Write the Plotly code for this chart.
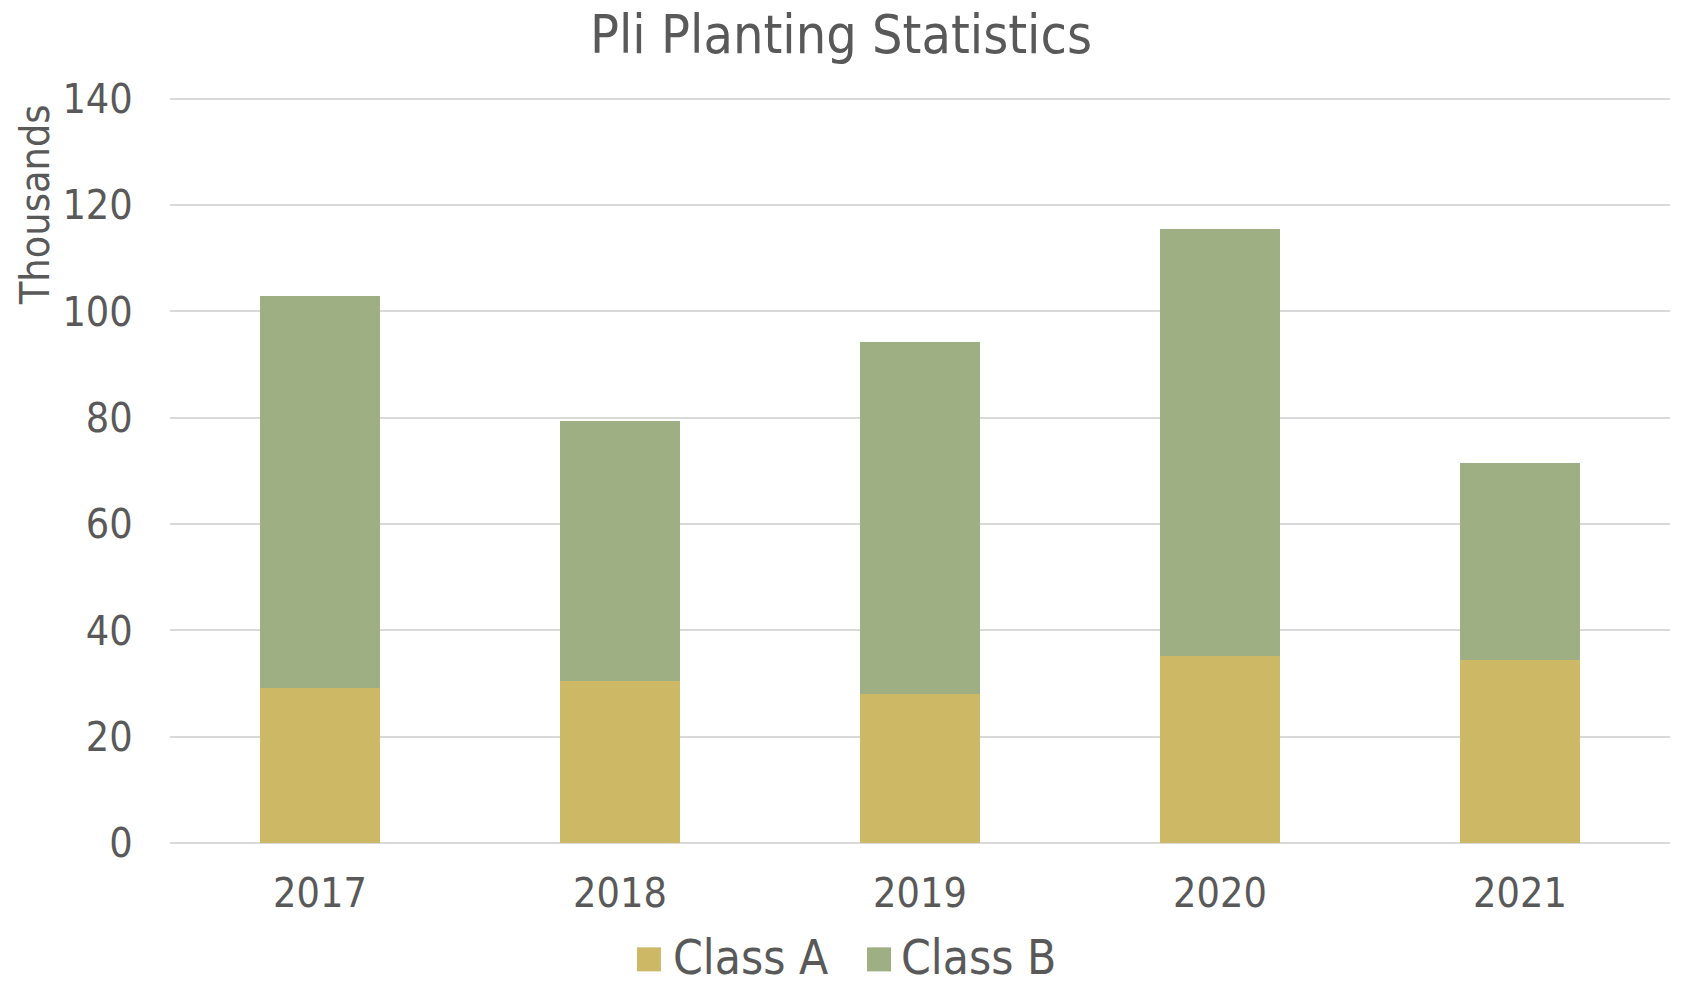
import plotly.graph_objects as go

years = ["2017", "2018", "2019", "2020", "2021"]
class_a = [29.1, 30.4, 28.1, 35.1, 34.35]
class_b = [73.8, 49.0, 66.1, 80.4, 37.2]
y_ticks = [0, 20, 40, 60, 80, 100, 120, 140]
series_names = ["Class A", "Class B"]
series_colors = ["#CDB866", "#9DAF83"]

FONT = "DejaVu Sans Condensed, Liberation Sans, sans-serif"
TXT = "#595959"
GRID = "#d9d9d9"

fig = go.Figure()
for name, vals, col in zip(series_names, [class_a, class_b], series_colors):
    fig.add_trace(go.Bar(name=name, x=years, y=vals, marker=dict(color=col, line=dict(width=0))))

# manual legend (Excel-style large square swatches)
legend_sq_x = [0.3113, 0.4647]
legend_txt_x = [0.3340, 0.4860]
shapes = []
annotations = [
    dict(text="Thousands", xref="paper", yref="paper", x=-0.09, y=0.855,
         xanchor="center", yanchor="middle", textangle=-90, showarrow=False,
         font=dict(family=FONT, size=41, color=TXT)),
]
for name, col, sx, tx in zip(series_names, series_colors, legend_sq_x, legend_txt_x):
    shapes.append(dict(type="rect", xref="paper", yref="paper", x0=sx, x1=sx + 0.016,
                       y0=-0.1721, y1=-0.1399, fillcolor=col, line=dict(width=0)))
    annotations.append(dict(text=name, xref="paper", yref="paper", x=tx, y=-0.1533,
                            xanchor="left", yanchor="middle", showarrow=False,
                            font=dict(family=FONT, size=47.5, color=TXT)))

fig.update_layout(
    barmode="stack",
    bargap=0.6,
    width=1675, height=979,
    margin=dict(l=162, r=13, t=89, b=144, autoexpand=False),
    paper_bgcolor="white", plot_bgcolor="white",
    font=dict(family=FONT, color=TXT, size=41),
    title=dict(text="Pli Planting Statistics", x=833 / 1675, xref="container", xanchor="center",
               y=1 - 26 / 979, yref="container", yanchor="middle",
               font=dict(family=FONT, size=53.5, color=TXT)),
    showlegend=False,
    xaxis=dict(showgrid=False, showline=False, zeroline=False,
               tickfont=dict(family=FONT, size=41, color=TXT),
               ticks="outside", ticklen=14, tickcolor="rgba(0,0,0,0)"),
    yaxis=dict(range=[0, 140.3], tickvals=y_ticks, showgrid=True, gridcolor=GRID, gridwidth=2,
               zeroline=True, zerolinecolor=GRID, zerolinewidth=2, showline=False,
               tickfont=dict(family=FONT, size=41, color=TXT),
               ticks="outside", ticklen=28, tickcolor="rgba(0,0,0,0)"),
    shapes=shapes,
    annotations=annotations,
)

fig.write_html("out.html")
